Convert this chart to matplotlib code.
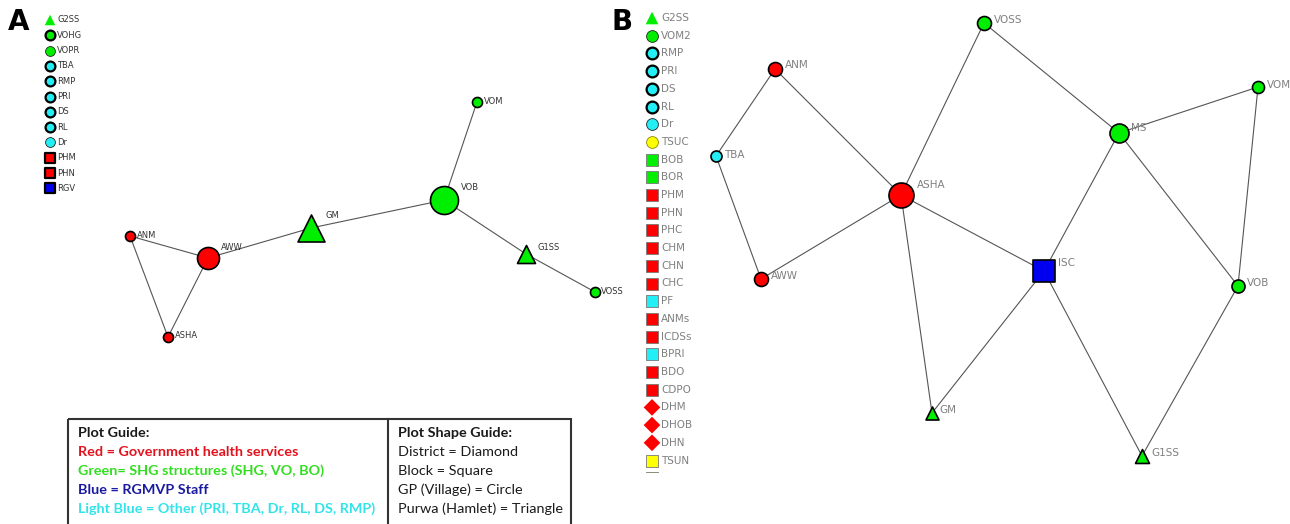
import matplotlib.pyplot as plt
from matplotlib.patches import Rectangle
from matplotlib.transforms import Bbox, TransformedBbox

# ---- data -------------------------------------------------------------
# colour groups / shape groups per node
palette = {'red': '#FF0000', 'green': '#00EE00', 'blue': '#0000EE',
           'cyan': '#22EEF5', 'yellow': '#FFFF00'}
shapes = {'tri': '^', 'circ': 'o', 'sq': 's', 'dia': 'D'}

# panel A: side list of nodes not in the graph
listA_names = ['G2SS', 'VOHG', 'VOPR', 'TBA', 'RMP', 'PRI', 'DS', 'RL', 'Dr', 'PHM', 'PHN', 'RGV']
listA_color = ['green', 'green', 'green', 'cyan', 'cyan', 'cyan', 'cyan', 'cyan', 'cyan', 'red', 'red', 'blue']
listA_shape = ['tri', 'circ', 'circ', 'circ', 'circ', 'circ', 'circ', 'circ', 'circ', 'sq', 'sq', 'sq']
listA_bold = [0, 1, 0, 1, 1, 1, 1, 1, 0, 1, 1, 1]

# panel A: network
nodesA = ['VOM', 'VOB', 'GM', 'G1SS', 'VOSS', 'ANM', 'AWW', 'ASHA']
colorA = ['green', 'green', 'green', 'green', 'green', 'red', 'red', 'red']
shapeA = ['circ', 'circ', 'tri', 'tri', 'circ', 'circ', 'circ', 'circ']
edgesA = [('VOM', 'VOB'), ('VOB', 'GM'), ('GM', 'AWW'), ('VOB', 'G1SS'), ('G1SS', 'VOSS'),
          ('ANM', 'AWW'), ('ANM', 'ASHA'), ('AWW', 'ASHA')]

# panel B: side list (last one is cut off in the source)
listB_names = ['G2SS', 'VOM2', 'RMP', 'PRI', 'DS', 'RL', 'Dr', 'TSUC', 'BOB', 'BOR', 'PHM', 'PHN',
               'PHC', 'CHM', 'CHN', 'CHC', 'PF', 'ANMs', 'ICDSs', 'BPRI', 'BDO', 'CDPO', 'DHM',
               'DHOB', 'DHN', 'TSUN', 'TSUP']
listB_color = ['green', 'green', 'cyan', 'cyan', 'cyan', 'cyan', 'cyan', 'yellow', 'green', 'green',
               'red', 'red', 'red', 'red', 'red', 'red', 'cyan', 'red', 'red', 'cyan', 'red', 'red',
               'red', 'red', 'red', 'yellow', 'yellow']
listB_shape = ['tri'] + ['circ'] * 7 + ['sq'] * 14 + ['dia'] * 3 + ['sq'] * 2
listB_bold = [0, 0, 1, 1, 1, 1, 0, 0] + [0] * 19

# panel B: network
nodesB = ['VOSS', 'ANM', 'TBA', 'ASHA', 'AWW', 'MS', 'VOM', 'ISC', 'VOB', 'GM', 'G1SS']
colorB = ['green', 'red', 'cyan', 'red', 'red', 'green', 'green', 'blue', 'green', 'green', 'green']
shapeB = ['circ', 'circ', 'circ', 'circ', 'circ', 'circ', 'circ', 'sq', 'circ', 'tri', 'tri']
edgesB = [('ANM', 'TBA'), ('TBA', 'AWW'), ('ANM', 'ASHA'), ('ASHA', 'VOSS'), ('ASHA', 'AWW'),
          ('ASHA', 'ISC'), ('ASHA', 'GM'), ('VOSS', 'MS'), ('MS', 'VOM'), ('MS', 'ISC'),
          ('MS', 'VOB'), ('VOM', 'VOB'), ('ISC', 'GM'), ('ISC', 'G1SS'), ('VOB', 'G1SS')]

guide_left = ['Plot Guide:', 'Red = Government health services', 'Green= SHG structures (SHG, VO, BO)',
              'Blue = RGMVP Staff', 'Light Blue = Other (PRI, TBA, Dr, RL, DS, RMP)']
guide_left_col = ['#1a1a1a', '#E3121E', '#33DD22', '#1A1AA0', '#33E3EA']
guide_right = ['Plot Shape Guide:', 'District = Diamond', 'Block = Square', 'GP (Village) = Circle',
               'Purwa (Hamlet) = Triangle']

# ---- layout (pixel positions of the drawing) --------------------------
posA = {'VOM': (477, 102), 'VOB': (444, 200), 'GM': (311, 228), 'G1SS': (526, 254),
        'VOSS': (595, 292), 'ANM': (130, 236), 'AWW': (208, 258), 'ASHA': (168, 337)}
labA = {'VOM': (484, 101), 'VOB': (461, 187), 'GM': (326, 215), 'G1SS': (537, 247),
        'VOSS': (601, 292), 'ANM': (137, 235), 'AWW': (221, 248), 'ASHA': (175, 336)}
sizeA = {'VOM': 52, 'VOB': 406, 'GM': 378, 'G1SS': 168, 'VOSS': 52, 'ANM': 52, 'AWW': 251, 'ASHA': 52}

posB = {'VOSS': (984, 23), 'ANM': (775, 69), 'TBA': (716, 156), 'ASHA': (901, 195),
        'AWW': (761, 279), 'MS': (1119, 133), 'VOM': (1258, 87), 'ISC': (1044, 271),
        'VOB': (1238, 286), 'GM': (932, 413), 'G1SS': (1142, 456)}
labB = {'VOSS': (994, 20), 'ANM': (785, 65), 'TBA': (724, 155), 'ASHA': (917, 185),
        'AWW': (771, 276), 'MS': (1131, 128), 'VOM': (1267, 85), 'ISC': (1058, 263),
        'VOB': (1247, 283), 'GM': (939, 410), 'G1SS': (1151, 453)}
sizeB = {'VOSS': 101, 'ANM': 101, 'TBA': 63, 'ASHA': 324, 'AWW': 101, 'MS': 187, 'VOM': 75,
         'ISC': 251, 'VOB': 88, 'GM': 88, 'G1SS': 101}

fig = plt.figure(figsize=(12.9, 5.24), dpi=100)
ax = fig.add_axes([0, 0, 1, 1])
ax.set_xlim(0, 1290)
ax.set_ylim(524, 0)
ax.axis('off')

edge_col = '#555555'


def draw_network(names, cols, shps, edges, pos, lab, size, txt_col, fs):
    for a, b in edges:
        ax.plot([pos[a][0], pos[b][0]], [pos[a][1], pos[b][1]], color=edge_col, lw=0.8, zorder=1)
    for n, c, s in zip(names, cols, shps):
        ax.scatter(*pos[n], s=size[n], marker=shapes[s], c=palette[c], edgecolors='black',
                   linewidths=1.2, zorder=3)
        ax.text(*lab[n], n, fontsize=fs, color=txt_col, va='center', ha='left', zorder=4)


def draw_list(names, cols, shps, bold, x0, y0, step, ms, txt_col, fs, gap, ymax=None):
    clip = None
    if ymax is not None:
        clip = TransformedBbox(Bbox.from_extents(x0 - 20, ymax, x0 + 60, 0), ax.transData)
    for i, (n, c, s, b) in enumerate(zip(names, cols, shps, bold)):
        y = y0 + i * step
        msz = ms * 1.15 if s == 'tri' else ms
        ec = 'black' if b else ('#222222' if s == 'circ' else 'none')
        if c == 'yellow':
            ec = '#888800'
        if s == 'sq' and not b:
            ec = '#777777'
        sc = ax.scatter(x0, y, s=msz, marker=shapes[s], c=palette[c], edgecolors=ec,
                        linewidths=1.6 if b else 0.6, zorder=3)
        if clip is not None:
            sc.set_clip_box(clip)
            sc.set_clip_path(None)
            sc.set_clip_on(True)
            if y + 4 > ymax:
                continue
        ax.text(x0 + gap, y, n, fontsize=fs, color=txt_col, va='center', ha='left')


# panel A
ax.text(8, 22, 'A', fontsize=20, fontweight='bold', va='center', ha='left')
draw_list(listA_names, listA_color, listA_shape, listA_bold, 50, 20, 15.3, 50, '#333333', 6, 7)
draw_network(nodesA, colorA, shapeA, edgesA, posA, labA, sizeA, '#333333', 6)

# panel B
ax.text(611, 22, 'B', fontsize=20, fontweight='bold', va='center', ha='left')
draw_list(listB_names, listB_color, listB_shape, listB_bold, 652, 18, 17.7, 72, '#808080', 7.5, 9, 472)
draw_network(nodesB, colorB, shapeB, edgesB, posB, labB, sizeB, '#808080', 7.5)

# guide box
ax.add_patch(Rectangle((68, 419), 503, 120, fill=False, ec='#333333', lw=1.5, zorder=2))
ax.plot([388, 388], [419, 524], color='#333333', lw=1.5, zorder=2)
for i, (t, c) in enumerate(zip(guide_left, guide_left_col)):
    ax.text(78, 433 + i * 19, t, fontsize=10.4, color=c, fontweight='bold', family='Lato',
            va='center', ha='left')
for i, t in enumerate(guide_right):
    ax.text(398, 433 + i * 19, t, fontsize=10.4, color='#1a1a1a', family='Lato',
            fontweight='bold' if i == 0 else 'normal', va='center', ha='left')

fig.savefig('out.png', dpi=100)
